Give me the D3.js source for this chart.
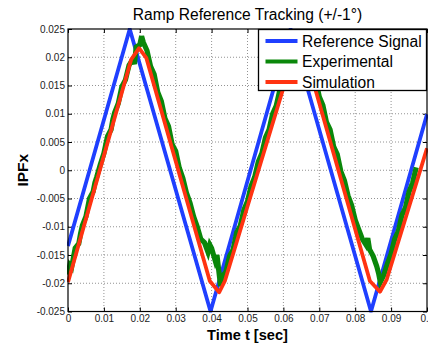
<!DOCTYPE html>
<html>
<head>
<meta charset="utf-8">
<script src="https://cdn.jsdelivr.net/npm/d3@7"></script>
<style>
  body { margin: 0; background: #fff; }
  text { font-family: "Liberation Sans", Arial, sans-serif; }
</style>
</head>
<body>
<div class="chart"></div>
<script>
// values: [time (s), IPFx]
const referenceSignal = [
  [0, -0.0134], [0.0172, 0.025], [0.0397, -0.025], [0.0620, 0.025], [0.0844, -0.025], [0.1, 0.0099]
];

const simulation = [
  [0, -0.0198], [0.0176, 0.0196], [0.0198, 0.0216], [0.0218, 0.0199],
  [0.0395, -0.0196], [0.0421, -0.0216], [0.0437, -0.0196],
  [0.0624, 0.0196], [0.0646, 0.0216], [0.0664, 0.0199],
  [0.0841, -0.0196], [0.0869, -0.0215], [0.0888, -0.0193], [0.1, 0.0039]
];

const experimental = [
  [0.000, -0.0185], [0.0005, -0.0168], [0.001, -0.0172], [0.002, -0.0138], [0.003, -0.0130], [0.0035, -0.0112], [0.004, -0.0098],
  [0.005, -0.0082], [0.006, -0.0050], [0.007, -0.0038], [0.0075, -0.0022], [0.008, -0.0012], [0.009, 0.0010],
  [0.010, 0.0030], [0.011, 0.0060], [0.012, 0.0072], [0.0125, 0.0090], [0.013, 0.0102], [0.014, 0.0118],
  [0.015, 0.0148], [0.016, 0.0160], [0.017, 0.0186], [0.018, 0.0196], [0.0185, 0.0188], [0.019, 0.0218],
  [0.020, 0.0222], [0.0205, 0.0237], [0.021, 0.0226], [0.022, 0.0212], [0.023, 0.0184],
  [0.024, 0.0170], [0.025, 0.0138], [0.026, 0.0122], [0.027, 0.0092], [0.028, 0.0078],
  [0.029, 0.0046], [0.030, 0.0034], [0.031, 0.0004], [0.032, -0.0014], [0.033, -0.0040],
  [0.034, -0.0058], [0.035, -0.0082], [0.036, -0.0100], [0.037, -0.0122], [0.038, -0.0128],
  [0.039, -0.0145], [0.0395, -0.0132], [0.040, -0.0138], [0.041, -0.0160], [0.0415, -0.0150], [0.042, -0.0178], [0.0425, -0.0205],
  [0.043, -0.0188], [0.044, -0.0180], [0.045, -0.0152], [0.046, -0.0140], [0.047, -0.0110],
  [0.048, -0.0098], [0.049, -0.0070], [0.050, -0.0055], [0.051, -0.0028], [0.052, -0.0012],
  [0.053, 0.0015], [0.054, 0.0030], [0.055, 0.0058], [0.056, 0.0072], [0.057, 0.0100],
  [0.058, 0.0114], [0.059, 0.0142], [0.060, 0.0155], [0.061, 0.0180], [0.062, 0.0195],
  [0.063, 0.0215], [0.064, 0.0226], [0.065, 0.0222], [0.066, 0.0210], [0.067, 0.0200],
  [0.068, 0.0172], [0.069, 0.0160], [0.070, 0.0130], [0.071, 0.0115], [0.072, 0.0085],
  [0.073, 0.0072], [0.074, 0.0042], [0.075, 0.0028], [0.076, -0.0002], [0.077, -0.0018],
  [0.078, -0.0045], [0.079, -0.0062], [0.080, -0.0088], [0.081, -0.0105], [0.082, -0.0122],
  [0.083, -0.0132], [0.0835, -0.0120], [0.084, -0.0140], [0.085, -0.0152], [0.086, -0.0170], [0.0865, -0.0182],
  [0.087, -0.0198], [0.088, -0.0185], [0.089, -0.0165], [0.090, -0.0148], [0.091, -0.0122],
  [0.092, -0.0108], [0.093, -0.0080], [0.094, -0.0066], [0.095, -0.0038], [0.096, -0.0022],
  [0.097, 0.0005]
];

const xTicks = [0, 0.01, 0.02, 0.03, 0.04, 0.05, 0.06, 0.07, 0.08, 0.09, 0.1];
const xTickLabels = ["0", "0.01", "0.02", "0.03", "0.04", "0.05", "0.06", "0.07", "0.08", "0.09", "0.1"];
const yTicks = [-0.025, -0.02, -0.015, -0.01, -0.005, 0, 0.005, 0.01, 0.015, 0.02, 0.025];
const yTickLabels = ["-0.025", "-0.02", "-0.015", "-0.01", "-0.005", "0", "0.005", "0.01", "0.015", "0.02", "0.025"];
const legendLabels = ["Reference Signal", "Experimental", "Simulation"];

const w = 428;
const h = 347;
const m = {left: 68, right: 1, top: 29, bottom: 35.5};

const blue = "#1f3fff", green = "#0a870a", red = "#ff3311";

const svg = d3.select(".chart").append("svg")
  .attr("width", w)
  .attr("height", h);

const x = d3.scaleLinear().domain([0, 0.1]).range([m.left, w - m.right]);
const y = d3.scaleLinear().domain([-0.025, 0.025]).range([h - m.bottom, m.top]);

// dotted grid
svg.append("g").selectAll("line").data(xTicks.slice(1, -1)).enter().append("line")
  .attr("x1", d => x(d)).attr("x2", d => x(d))
  .attr("y1", m.top).attr("y2", h - m.bottom)
  .attr("stroke", "#777").attr("stroke-width", 0.8).attr("stroke-dasharray", "1,2");
svg.append("g").selectAll("line").data(yTicks.slice(1, -1)).enter().append("line")
  .attr("x1", m.left).attr("x2", w - m.right)
  .attr("y1", d => y(d)).attr("y2", d => y(d))
  .attr("stroke", "#777").attr("stroke-width", 0.8).attr("stroke-dasharray", "1,2");

// axes, ticks pointing inward
function styleAxis(g) {
  g.select(".domain").remove();
  g.selectAll("text").style("font-family", '"Liberation Sans", Arial, sans-serif')
    .style("font-size", "10px").attr("fill", "#222");
}
svg.append("g").attr("transform", `translate(0,${h - m.bottom})`)
  .call(d3.axisBottom(x).tickValues(xTicks).tickFormat((d, i) => xTickLabels[i])
    .tickSizeInner(-4).tickSizeOuter(0).tickPadding(3.5))
  .call(styleAxis);
svg.append("g").attr("transform", `translate(0,${m.top})`)
  .call(d3.axisTop(x).tickValues(xTicks).tickFormat("").tickSizeInner(-4).tickSizeOuter(0))
  .call(styleAxis);
svg.append("g").attr("transform", `translate(${m.left},0)`)
  .call(d3.axisLeft(y).tickValues(yTicks).tickFormat((d, i) => yTickLabels[i])
    .tickSizeInner(-4).tickSizeOuter(0).tickPadding(3))
  .call(styleAxis);
svg.append("g").attr("transform", `translate(${w - m.right},0)`)
  .call(d3.axisRight(y).tickValues(yTicks).tickFormat("").tickSizeInner(-4).tickSizeOuter(0))
  .call(styleAxis);

svg.append("clipPath").attr("id", "plot-clip").append("rect")
  .attr("x", m.left - 1).attr("y", m.top - 1)
  .attr("width", w - m.left - m.right + 2).attr("height", h - m.top - m.bottom + 2);

const line = d3.line().x(d => x(d[0])).y(d => y(d[1]));
const plot = svg.append("g").attr("clip-path", "url(#plot-clip)");

plot.append("path").datum(referenceSignal)
  .attr("d", line).attr("fill", "none").attr("stroke", blue)
  .attr("stroke-width", 3.8).attr("stroke-linejoin", "round");
plot.append("path").datum(experimental)
  .attr("d", line).attr("fill", "none").attr("stroke", green)
  .attr("stroke-width", 5.2).attr("stroke-linejoin", "miter");
plot.append("path").datum(simulation)
  .attr("d", line).attr("fill", "none").attr("stroke", red)
  .attr("stroke-width", 3.8).attr("stroke-linejoin", "round");

// axes box
svg.append("rect")
  .attr("x", m.left).attr("y", m.top)
  .attr("width", w - m.left - m.right).attr("height", h - m.top - m.bottom)
  .attr("fill", "none").attr("stroke", "#000").attr("stroke-width", 1.2);

// legend
const lg = svg.append("g").attr("transform", "translate(258.5,29.5)");
lg.append("rect").attr("width", 168).attr("height", 61)
  .attr("fill", "#fff").attr("stroke", "#000").attr("stroke-width", 1.3);
const colors = [blue, green, red];
legendLabels.forEach((label, i) => {
  const yy = 11.5 + i * 20.5;
  lg.append("line").attr("x1", 7).attr("x2", 39).attr("y1", yy).attr("y2", yy)
    .attr("stroke", colors[i]).attr("stroke-width", 4);
  lg.append("text").attr("x", 43.5).attr("y", yy + 5.5)
    .style("font-size", "15.6px").text(label);
});

// title and axis labels
svg.append("text").attr("x", x(0.05)).attr("y", 20)
  .attr("text-anchor", "middle").style("font-size", "15.6px")
  .text("Ramp Reference Tracking (+/-1°)");
svg.append("text").attr("x", x(0.05)).attr("y", 340)
  .attr("text-anchor", "middle").style("font-size", "14.6px").style("font-weight", "bold")
  .text("Time t [sec]");
svg.append("text").attr("transform", `translate(28,${y(0)}) rotate(-90)`)
  .attr("text-anchor", "middle").style("font-size", "15.5px").style("font-weight", "bold")
  .text("IPFx");
</script>
</body>
</html>
